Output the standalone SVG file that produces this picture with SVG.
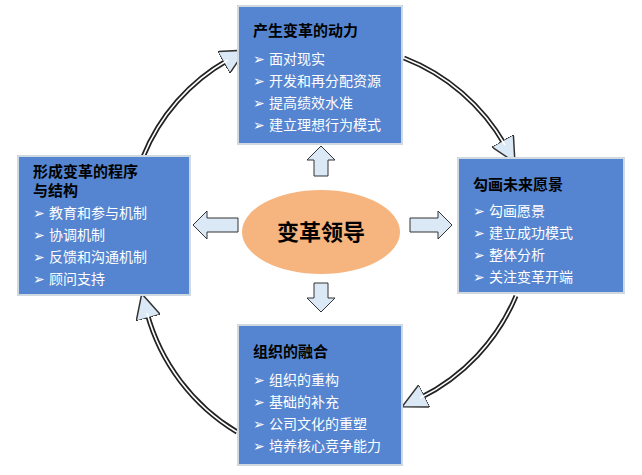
<svg xmlns="http://www.w3.org/2000/svg" width="642" height="475" viewBox="0 0 642 475">
<defs>
<marker id="ah" viewBox="0 0 10 10" refX="2" refY="5" markerWidth="5" markerHeight="5" orient="auto" markerUnits="strokeWidth">
<path d="M0,0 L10,5 L0,10 Z" fill="#dbe8f5" stroke="#333" stroke-width="0.6"/>
</marker>
</defs>
<style>
.box{fill:#5585d0;stroke:#d0d8e0;stroke-width:2}
.t{font-family:"Liberation Sans","Noto Sans CJK SC",sans-serif;font-weight:bold;font-size:15px;fill:#000}
.i{font-family:"Liberation Sans","Noto Sans CJK SC",sans-serif;font-size:14px;fill:#fff}
.arc{fill:none;stroke:#222;stroke-width:5}
.arcw{fill:none;stroke:#fff;stroke-width:1.6}
.ba{fill:#dbe8f5;stroke:#333;stroke-width:1}
</style>
<rect width="642" height="475" fill="#fff"/>
<g id="connectors">
<path class="arc" d="M143,157 A195,195 0 0 1 228,60" marker-end="url(#ah)"/>
<path class="arcw" d="M143,157 A195,195 0 0 1 228,60"/>
<path class="arc" d="M404,58 A200,200 0 0 1 505,145" marker-end="url(#ah)"/>
<path class="arcw" d="M404,58 A200,200 0 0 1 505,145"/>
<path class="arc" d="M516,296 A200,200 0 0 1 420,398" marker-end="url(#ah)"/>
<path class="arcw" d="M516,296 A200,200 0 0 1 420,398"/>
<path class="arc" d="M237,432 A200,200 0 0 1 147,313" marker-end="url(#ah)"/>
<path class="arcw" d="M237,432 A200,200 0 0 1 147,313"/>
<path class="ba" d="M321,146 L335,160 L328,160 L328,176 L314,176 L314,160 L307,160 Z"/>
<path class="ba" d="M193,225 L207,211 L207,218 L238,218 L238,232 L207,232 L207,239 Z"/>
<path class="ba" d="M452,225 L438,211 L438,218 L410,218 L410,232 L438,232 L438,239 Z"/>
<path class="ba" d="M321,312 L335,298 L328,298 L328,283 L314,283 L314,298 L307,298 Z"/>
</g>
<g id="center">
<ellipse cx="321" cy="232" rx="79" ry="42" fill="#f6b47e"/>
<text x="321" y="240" text-anchor="middle" style="font-family:'Liberation Sans','Noto Sans CJK SC',sans-serif;font-weight:bold;font-size:22px;fill:#000">变革领导</text>
</g>
<g id="top">
<rect class="box" x="238" y="6" width="164" height="138"/>
<text class="t" x="253" y="36">产生变革的动力</text>
<text class="i" x="253" y="64">➢  面对现实</text>
<text class="i" x="253" y="86">➢  开发和再分配资源</text>
<text class="i" x="253" y="108">➢  提高绩效水准</text>
<text class="i" x="253" y="130">➢  建立理想行为模式</text>
</g>
<g id="left">
<rect class="box" x="18" y="156" width="172" height="139"/>
<text class="t" x="33" y="177">形成变革的程序</text>
<text class="t" x="33" y="196">与结构</text>
<text class="i" x="33" y="218">➢  教育和参与机制</text>
<text class="i" x="33" y="240">➢  协调机制</text>
<text class="i" x="33" y="262">➢  反馈和沟通机制</text>
<text class="i" x="33" y="284">➢  顾问支持</text>
</g>
<g id="right">
<rect class="box" x="458" y="158" width="166" height="135"/>
<text class="t" x="473" y="190">勾画未来愿景</text>
<text class="i" x="473" y="216">➢  勾画愿景</text>
<text class="i" x="473" y="238">➢  建立成功模式</text>
<text class="i" x="473" y="260">➢  整体分析</text>
<text class="i" x="473" y="282">➢  关注变革开端</text>
</g>
<g id="bottom">
<rect class="box" x="238" y="325" width="164" height="140"/>
<text class="t" x="253" y="357">组织的融合</text>
<text class="i" x="253" y="385">➢  组织的重构</text>
<text class="i" x="253" y="407">➢  基础的补充</text>
<text class="i" x="253" y="429">➢  公司文化的重塑</text>
<text class="i" x="253" y="451">➢  培养核心竞争能力</text>
</g>
</svg>
